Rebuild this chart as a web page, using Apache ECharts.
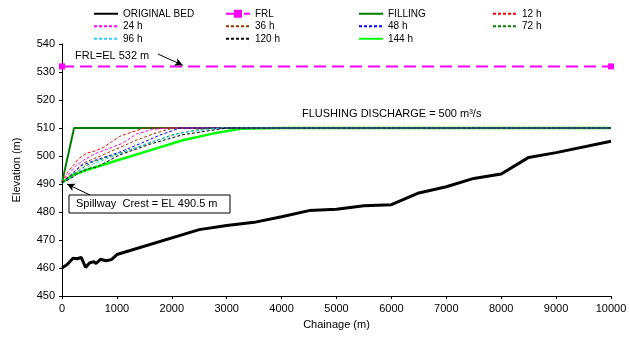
<!DOCTYPE html>
<html><head><meta charset="utf-8">
<script src="https://cdn.jsdelivr.net/npm/echarts@6/dist/echarts.min.js"></script>
<style>html,body{margin:0;padding:0;background:#fff}#c{width:630px;height:337px}</style>
</head><body><div id="c"></div>
<script>
// Data (chainage m, elevation m)
const originalBed = [[0,460],[100,461.3],[200,463.5],[280,463.3],[350,463.8],[430,460.2],[500,461.8],[580,462.3],[620,461.6],[700,463.1],[800,462.6],[900,463],[1000,464.8],[2500,473.7],[3000,475.2],[3500,476.3],[4000,478.3],[4500,480.5],[5000,481],[5500,482.2],[6000,482.6],[6500,486.8],[7000,489],[7500,492],[8000,493.6],[8500,499.5],[9000,501.2],[10000,505.3]];
const frl = [[0,532],[10000,532]];
const filling = [[0,490.5],[220,510],[10000,510]];
const h12 = [[0,490.5],[100,494.2],[200,496.5],[300,499],[450,501],[600,501.8],[750,503],[900,505],[1050,507],[1250,508.4],[1500,510],[10000,510]];
const h24 = [[0,490.5],[100,493],[250,496.5],[400,498.6],[600,500.8],[800,502.3],[1100,504.5],[1350,507.8],[1650,509.5],[1950,510],[10000,510]];
const h36 = [[0,490.5],[150,493.2],[400,497.6],[650,499.6],[1000,502.6],[1350,505.6],[1650,507.8],[2000,509.9],[10000,510]];
const h48 = [[0,490.5],[150,492.8],[350,496.6],[650,498.8],[1050,501.4],[1400,504.2],[1800,507.6],[2150,510],[10000,510]];
const h72 = [[0,490.5],[150,492.5],[350,495.5],[550,497.8],[1050,501],[1500,504],[2000,507.5],[2500,509.5],[2900,510],[10000,510]];
const h96 = [[0,490.5],[150,492],[350,494.8],[550,497],[1050,500.8],[1550,504.5],[2200,508.4],[2900,510],[10000,510]];
const h120 = [[0,490.5],[150,491.8],[300,494],[500,495.6],[650,496.2],[1050,500.4],[1600,504.2],[2200,507.6],[3000,510],[10000,510]];
const h144 = [[0,490.5],[200,493.2],[450,495],[1000,498.4],[1600,502],[2200,505.6],[2750,508],[3250,509.7],[4000,510],[10000,510]];
const xTicks = {min:0, max:10000, interval:1000};
const yTicks = {min:450, max:540, interval:10};
const frlArrow = [[1750,536.4],[2200,532.4]];
const crestArrow = [[570,485.5],[90,490]];

const chart = echarts.init(document.getElementById('c'));
const FONT = 'Liberation Sans, Arial, sans-serif';
function dashed(name, data, color){
  return {name, type:'line', data, symbol:'none', showSymbol:false,
    lineStyle:{color, width:1, type:[3,2]}, itemStyle:{color}, z:3, animation:false};
}
const legendBase = {orient:'vertical', top:3, itemWidth:24, itemHeight:10, itemGap:1,
  itemStyle:{opacity:0},
  textStyle:{fontFamily:FONT, fontSize:10, color:'#000', lineHeight:11.5}};
chart.setOption({
  animation:false,
  textStyle:{fontFamily:FONT},
  grid:{left:62, right:19, top:44, bottom:41},
  legend:[
    Object.assign({left:88, data:['ORIGINAL BED','24 h','96 h']}, legendBase),
    Object.assign({left:220, data:[{name:'FRL', itemStyle:{opacity:1}},'36 h','120 h']}, legendBase),
    Object.assign({left:353, data:['FILLING','48 h','144 h']}, legendBase),
    Object.assign({left:487, data:['12 h','72 h']}, legendBase)
  ],
  xAxis:{type:'value', min:xTicks.min, max:xTicks.max, interval:xTicks.interval,
    name:'Chainage (m)', nameLocation:'middle', nameGap:23,
    nameTextStyle:{fontSize:11, color:'#000', fontFamily:FONT},
    axisLine:{lineStyle:{color:'#000', width:1}}, axisTick:{length:3, lineStyle:{color:'#000'}},
    axisLabel:{fontSize:11, color:'#000', margin:7, fontFamily:FONT, formatter:v=>String(v)}, splitLine:{show:false}},
  yAxis:{type:'value', min:yTicks.min, max:yTicks.max, interval:yTicks.interval,
    name:'Elevation (m)', nameLocation:'middle', nameGap:40,
    nameTextStyle:{fontSize:11, color:'#000', fontFamily:FONT},
    axisLine:{show:true, lineStyle:{color:'#000', width:1}}, axisTick:{show:true, length:3, lineStyle:{color:'#000'}},
    axisLabel:{fontSize:11, color:'#000', margin:7, fontFamily:FONT, formatter:v=>String(v)}, splitLine:{show:false}},
  series:[
    {name:'ORIGINAL BED', type:'line', data:originalBed, symbol:'none', lineStyle:{color:'#000', width:3}, itemStyle:{color:'#000'}, z:4},
    {name:'FRL', type:'line', data:frl, symbol:'rect', symbolSize:6, lineStyle:{color:'#ff00ff', width:2, type:[12,6]}, itemStyle:{color:'#ff00ff'}, z:4,
      markLine:{silent:true, symbol:['none','arrow'], symbolSize:[6,8], lineStyle:{color:'#000', width:1, type:'solid'}, label:{show:false},
        data:[[{coord:frlArrow[0]},{coord:frlArrow[1]}],[{coord:crestArrow[0]},{coord:crestArrow[1]}]]}},
    {name:'FILLING', type:'line', data:filling, symbol:'none', lineStyle:{color:'#008000', width:2}, itemStyle:{color:'#008000'}, z:2},
    {name:'144 h', type:'line', data:h144, symbol:'none', lineStyle:{color:'#00ff00', width:2.5}, itemStyle:{color:'#00ff00'}, z:2},
    dashed('12 h', h12, '#ff0000'),
    dashed('24 h', h24, '#ff00ff'),
    dashed('36 h', h36, '#993300'),
    dashed('48 h', h48, '#0000ff'),
    dashed('72 h', h72, '#008000'),
    dashed('96 h', h96, '#33ccff'),
    dashed('120 h', h120, '#000000')
  ],
  graphic:[
    {type:'text', left:75, top:50, style:{text:'FRL=EL 532 m', font:'11px '+FONT, fill:'#000'}},
    {type:'text', left:302, top:108, style:{text:'FLUSHING DISCHARGE = 500 m³/s', font:'11px '+FONT, fill:'#000'}},
    {type:'rect', shape:{x:69, y:195, width:161, height:18}, style:{fill:'#fff', stroke:'#000', lineWidth:1}, z:10},
    {type:'text', x:76, y:198, style:{text:'Spillway  Crest = EL 490.5 m', font:'11px '+FONT, fill:'#000'}, z:11}
  ]
});
</script></body></html>
